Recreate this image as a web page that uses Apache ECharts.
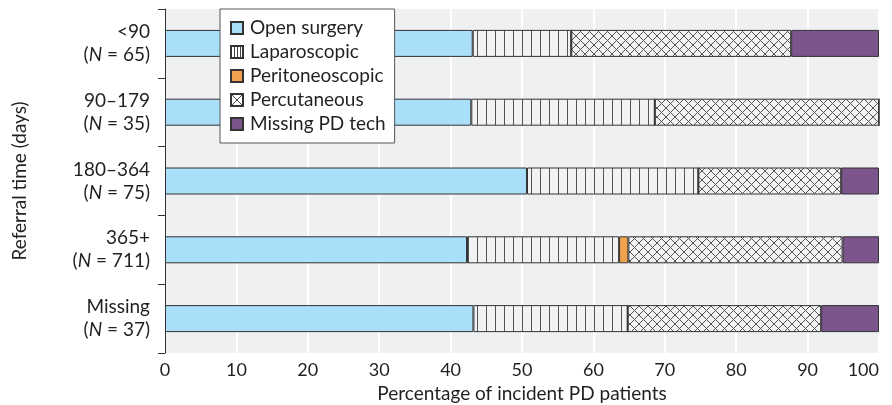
<!DOCTYPE html>
<html>
<head>
<meta charset="utf-8">
<script src="https://cdn.jsdelivr.net/npm/echarts@6/dist/echarts.min.js"></script>
<style>
  html, body { margin: 0; padding: 0; background: #fff; }
  #chart { width: 892px; height: 405px; }
</style>
</head>
<body>
<div id="chart"></div>
<script>
// referral time groups (top to bottom)
const groups = ['<90', '90–179', '180–364', '365+', 'Missing'];
const groupN = [65, 35, 75, 711, 37];

// % of incident PD patients by technique
const openSurgery = [43.1, 42.9, 50.7, 42.3, 43.2];
const laparoscopic = [13.8, 25.7, 24.0, 21.3, 21.6];
const peritoneoscopic = [0, 0, 0, 1.3, 0];
const percutaneous = [30.8, 31.4, 20.0, 30.0, 27.1];
const missingTech = [12.3, 0, 5.3, 5.1, 8.1];

const xTicks = [0, 10, 20, 30, 40, 50, 60, 70, 80, 90, 100];

const FONT = 'Lato';
const INK = '#231f20';

// hatch fills for the two patterned techniques
function makePattern(kind, size, bg) {
  const c = document.createElement('canvas');
  c.width = size; c.height = size;
  const ctx = c.getContext('2d');
  ctx.fillStyle = bg;
  ctx.fillRect(0, 0, size, size);
  ctx.strokeStyle = '#555';
  ctx.lineWidth = 1;
  ctx.beginPath();
  if (kind === 'vert') {
    for (let x = 0.5; x < size; x += 9) { ctx.moveTo(x, 0); ctx.lineTo(x, size); }
  } else {
    ctx.moveTo(0, 0); ctx.lineTo(size, size);
    ctx.moveTo(size, 0); ctx.lineTo(0, size);
  }
  ctx.stroke();
  return { image: c, repeat: 'repeat' };
}

// small swatches for the legend box
function legendSwatch(kind) {
  const c = document.createElement('canvas');
  c.width = 12; c.height = 12;
  const ctx = c.getContext('2d');
  ctx.fillStyle = '#fff';
  ctx.fillRect(0, 0, 12, 12);
  ctx.strokeStyle = '#444';
  ctx.lineWidth = 1;
  ctx.beginPath();
  if (kind === 'vert') {
    [3.5, 6.5, 9.5].forEach(x => { ctx.moveTo(x, 0); ctx.lineTo(x, 12); });
  } else {
    ctx.moveTo(0, 0); ctx.lineTo(12, 12);
    ctx.moveTo(12, 0); ctx.lineTo(0, 12);
  }
  ctx.stroke();
  return { image: c, repeat: 'no-repeat' };
}

const chart = echarts.init(document.getElementById('chart'));

const mkSeries = (name, data, color) => ({
  name: name,
  type: 'bar',
  stack: 'all',
  data: data,
  barWidth: 27,
  itemStyle: { color: color, borderColor: '#333', borderWidth: 1 },
  emphasis: { disabled: true },
  animation: false
});

chart.setOption({
  backgroundColor: '#fff',
  textStyle: { fontFamily: FONT },
  grid: {
    left: 165, right: 13, top: 9, bottom: 52,
    containLabel: false,
    outerBoundsMode: 'none',
    show: true, backgroundColor: '#eff0f2', borderWidth: 0
  },
  legend: {
    orient: 'vertical',
    left: 220, top: 9,
    padding: [9, 9, 9, 10],
    backgroundColor: '#fff',
    borderColor: '#555',
    borderWidth: 1,
    borderRadius: 0,
    itemWidth: 12, itemHeight: 12,
    itemGap: 4,
    icon: 'rect',
    selectedMode: false,
    textStyle: { fontSize: 19, lineHeight: 20, color: INK, fontFamily: FONT, padding: [0, 0, 0, 2] },
    data: [
      { name: 'Open surgery' },
      { name: 'Laparoscopic', itemStyle: { color: legendSwatch('vert') } },
      { name: 'Peritoneoscopic' },
      { name: 'Percutaneous', itemStyle: { color: legendSwatch('cross') } },
      { name: 'Missing PD tech' }
    ]
  },
  xAxis: {
    type: 'value',
    min: 0, max: 100, interval: 10,
    axisLine: { show: false },
    axisTick: { show: false },
    splitLine: { show: true, lineStyle: { color: '#fff', width: 2 } },
    axisLabel: {
      color: INK, fontSize: 18, margin: 8,
      alignMaxLabel: 'right',
      formatter: v => xTicks.includes(v) ? String(v) : ''
    },
    name: 'Percentage of incident PD patients',
    nameLocation: 'middle',
    nameGap: 30,
    nameTextStyle: { color: INK, fontSize: 19 }
  },
  yAxis: {
    type: 'category',
    inverse: true,
    data: groups,
    axisLine: { show: true, lineStyle: { color: '#333', width: 1 } },
    axisTick: { show: true, length: 7, lineStyle: { color: '#333' } },
    axisLabel: {
      margin: 15,
      align: 'right',
      lineHeight: 23,
      formatter: (v, i) => '{a|' + v + '}\n{b|(}{i|N}{b| = ' + groupN[i] + ')}',
      rich: {
        a: { fontSize: 19, color: INK, lineHeight: 23 },
        b: { fontSize: 19, color: INK, lineHeight: 23 },
        i: { fontSize: 19, color: INK, lineHeight: 23, fontStyle: 'italic' }
      }
    },
    name: 'Referral time (days)',
    nameLocation: 'middle',
    nameRotate: 90,
    nameGap: 136,
    nameTextStyle: { color: INK, fontSize: 19 }
  },
  series: [
    mkSeries('Open surgery', openSurgery, '#a9dff9'),
    mkSeries('Laparoscopic', laparoscopic, makePattern('vert', 9, '#f1f2f4')),
    mkSeries('Peritoneoscopic', peritoneoscopic, '#f0a24e'),
    mkSeries('Percutaneous', percutaneous, makePattern('cross', 9, '#f1f2f4')),
    mkSeries('Missing PD tech', missingTech, '#7c558c')
  ]
});
</script>
</body>
</html>
